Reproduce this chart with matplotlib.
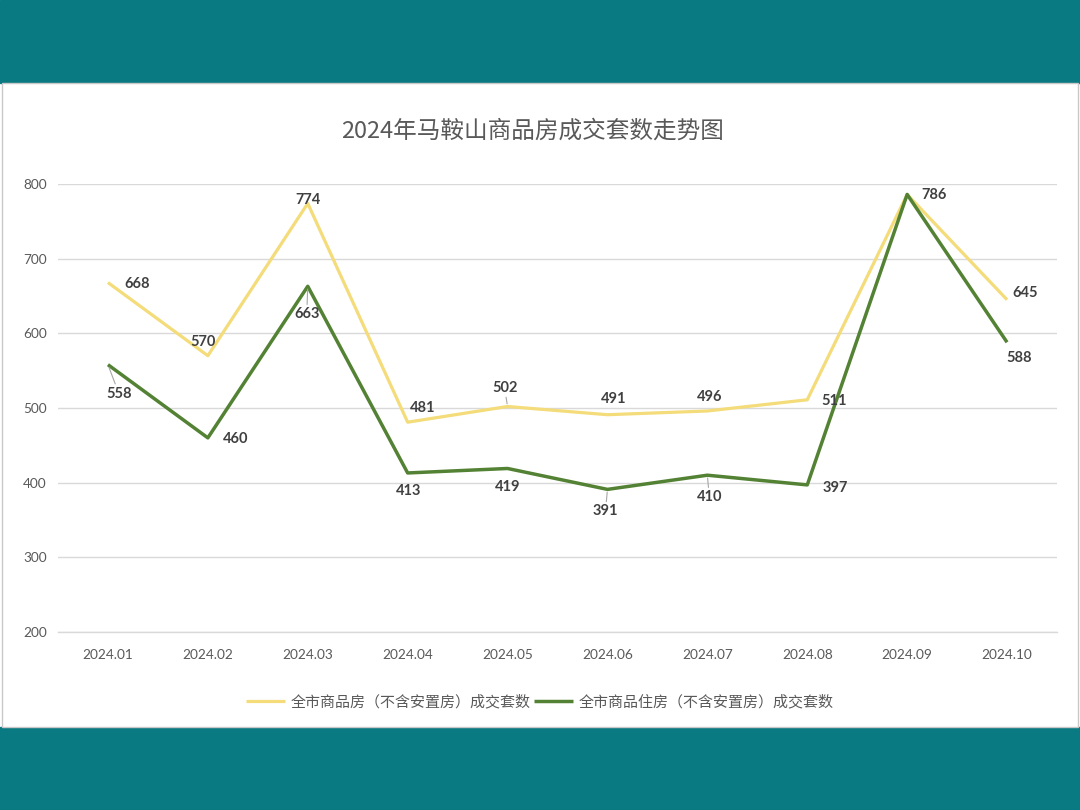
import matplotlib
matplotlib.use("Agg")
import matplotlib.pyplot as plt
from matplotlib.patches import Rectangle

plt.rcParams["font.family"] = ["Lato", "Noto Sans CJK SC", "DejaVu Sans"]

MONTHS = ["2024.01", "2024.02", "2024.03", "2024.04", "2024.05",
          "2024.06", "2024.07", "2024.08", "2024.09", "2024.10"]
ALL_HOUSES = [668, 570, 774, 481, 502, 491, 496, 511, 786, 645]
RESIDENTIAL = [558, 460, 663, 413, 419, 391, 410, 397, 786, 588]
NAME_ALL = "全市商品房（不含安置房）成交套数"
NAME_RES = "全市商品住房（不含安置房）成交套数"
TITLE = "2024年马鞍山商品房成交套数走势图"

# label offsets in pixels (dx, dy) per point, and whether a leader line is drawn
OFF_ALL = [(29, -1), (-5, 14), (0, 3), (15, 14), (-3, 19), (6, 16), (2, 14), (27, -1), (27, -1), (18, 7)]
LEAD_ALL = [False, False, False, False, True, False, False, False, False, False]
OFF_RES = [(11, -29), (28, -1), (-1, -28), (1, -18), (0, -19), (-2, -22), (2, -22), (28, -3), (0, 0), (12, -16)]
LEAD_RES = [True, False, True, False, False, True, True, False, False, False]
SHOW_RES = [True] * 8 + [False, True]

YELLOW = "#F3DC79"
GREEN = "#548235"
TEAL = "#0A7A82"

fig = plt.figure(figsize=(10.8, 8.1), dpi=100)
fig.patch.set_facecolor("white")
for r in [Rectangle((0, 727 / 810), 1, 83 / 810, color=TEAL),
          Rectangle((0, 0), 1, 83 / 810, color=TEAL),
          Rectangle((2 / 1080, 83 / 810), 1076 / 1080, 644 / 810,
                    facecolor="white", edgecolor="#C8C8C8", lw=1)]:
    r.set_transform(fig.transFigure)
    r.set_zorder(-5)
    fig.patches.append(r)

ax = fig.add_axes([58 / 1080, 178 / 810, 999 / 1080, 448 / 810])
ax.set_zorder(2)
ax.set_facecolor("none")
x = list(range(len(MONTHS)))
ax.plot(x, ALL_HOUSES, color=YELLOW, lw=2.3, solid_capstyle="butt", label=NAME_ALL, zorder=3)
ax.plot(x, RESIDENTIAL, color=GREEN, lw=2.5, solid_capstyle="butt", label=NAME_RES, zorder=4)

ax.set_xlim(-0.5, len(MONTHS) - 0.5)
ax.set_ylim(200, 800)
ax.set_yticks(range(200, 801, 100))
ax.set_xticks(x)
ax.set_xticklabels(MONTHS)
ax.yaxis.grid(True, color="#D9D9D9", lw=1)
ax.axhline(200, color="#D9D9D9", lw=1, clip_on=False, zorder=1)
ax.set_axisbelow(True)
for s in ax.spines.values():
    s.set_visible(False)
ax.tick_params(length=0, labelsize=9.8, labelcolor="#595959")
ax.tick_params(axis="x", pad=12)
ax.tick_params(axis="y", pad=8)


def label(i, v, off, lead):
    kw = dict(xytext=off, textcoords="offset pixels", ha="center", va="center",
              fontsize=10.5, fontweight="bold", color="#404040", zorder=5)
    if lead:
        kw["arrowprops"] = dict(arrowstyle="-", color="#A6A6A6", lw=0.8, shrinkA=0, shrinkB=2)
    ax.annotate(str(v), (i, v), **kw)


for i, v in enumerate(ALL_HOUSES):
    label(i, v, OFF_ALL[i], LEAD_ALL[i])
for i, v in enumerate(RESIDENTIAL):
    if SHOW_RES[i]:
        label(i, v, OFF_RES[i], LEAD_RES[i])

fig.text(533 / 1080, 1 - 131 / 810, TITLE, ha="center", va="center", fontsize=17, color="#595959",
         family=["Noto Sans CJK SC", "DejaVu Sans"])

leg = fig.legend(loc="center", bbox_to_anchor=(540 / 1080, 1 - 702 / 810), ncol=2, frameon=False,
                 prop={"family": ["Noto Sans CJK SC"], "size": 10.8}, handlelength=2.6,
                 columnspacing=0.2, handletextpad=0.4)
for t in leg.get_texts():
    t.set_color("#595959")

fig.savefig("out.png", dpi=100)
